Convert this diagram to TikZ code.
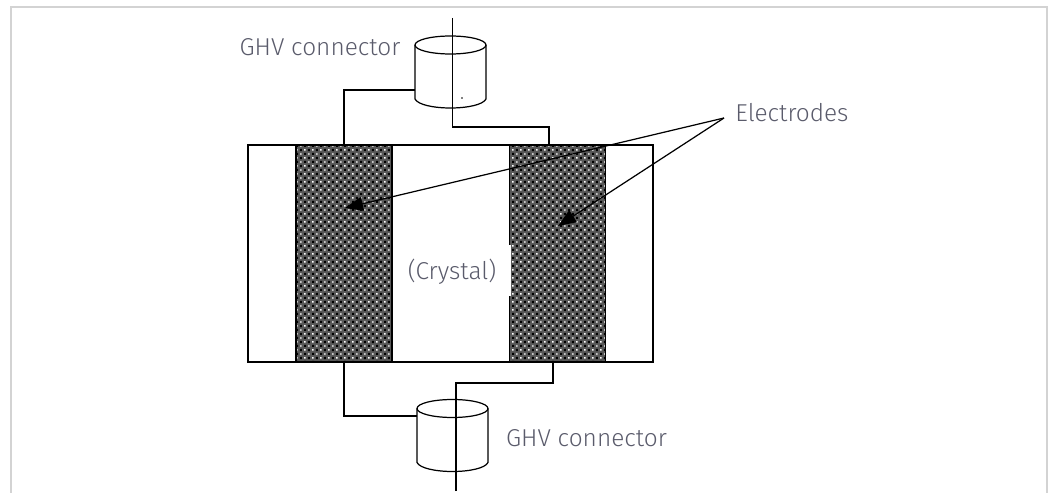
\documentclass[tikz,border=0pt]{standalone}
\usepackage{xcolor}
\usepackage{fontspec}
\setmainfont{Fira Sans Light}
\usetikzlibrary{arrows.meta,patterns}
\definecolor{framegray}{HTML}{D3D3D3}
\definecolor{textgray}{HTML}{5A5B6B}
\pgfdeclarepatterninherentlycolored{meshtile}{\pgfqpoint{0pt}{0pt}}{\pgfqpoint{4.55pt}{4.55pt}}{\pgfqpoint{4.55pt}{4.55pt}}{
  \pgfsetfillcolor{black!65}
  \pgfpathrectangle{\pgfqpoint{0pt}{0pt}}{\pgfqpoint{4.55pt}{4.55pt}}\pgfusepath{fill}
  \pgfsetfillcolor{black}
  \pgfpathrectangle{\pgfqpoint{0.57pt}{1.71pt}}{\pgfqpoint{1.14pt}{1.14pt}}\pgfusepath{fill}
  \pgfpathrectangle{\pgfqpoint{2.84pt}{3.98pt}}{\pgfqpoint{1.14pt}{0.57pt}}\pgfusepath{fill}
  \pgfpathrectangle{\pgfqpoint{2.84pt}{0pt}}{\pgfqpoint{1.14pt}{0.57pt}}\pgfusepath{fill}
  \pgfsetfillcolor{white}
  \pgfpathrectangle{\pgfqpoint{2.98pt}{1.85pt}}{\pgfqpoint{0.85pt}{0.85pt}}\pgfusepath{fill}
  \pgfpathrectangle{\pgfqpoint{0.71pt}{4.13pt}}{\pgfqpoint{0.85pt}{0.42pt}}\pgfusepath{fill}
  \pgfpathrectangle{\pgfqpoint{0.71pt}{0pt}}{\pgfqpoint{0.85pt}{0.43pt}}\pgfusepath{fill}
}
\tikzset{
  wire/.style={draw=black,line width=0.65pt},
  electrode/.style={draw=black,line width=0.8pt,pattern=meshtile,minimum width=1.92cm,minimum height=4.34cm,inner sep=0pt,outer sep=0pt},
  can/.style={draw=black,fill=white,line width=0.7pt},
  pointer/.style={draw=black,line width=0.7pt,-{Triangle[length=0.36cm,width=0.28cm]}},
  label/.style={text=textgray,font=\fontsize{13.9pt}{16pt}\selectfont,inner sep=0pt}
}
\begin{document}
\begin{tikzpicture}[x=0.02cm,y=-0.02cm]
  \useasboundingbox (0,0) rectangle (1052,493);
  \draw[framegray,line width=1.14pt] (11,493) -- (11,7) -- (1047,7) -- (1047,493);

  \node[draw=black,line width=0.7pt,minimum width=8.1cm,minimum height=4.34cm,inner sep=0pt,outer sep=0pt] (crystal) at (450.5,253.5) {};
  \node[electrode] (leftel) at (344,253.5) {};
  \node[electrode] (rightel) at (557.5,253.5) {};
  \node[fill=white,minimum width=0.04cm,minimum height=1.02cm,inner sep=0pt] (gap) at (510,270.5) {};

  \coordinate (topmid) at (450.5,72);
  \coordinate (botmid) at (452.5,435.5);
  \foreach \c in {topmid,botmid} {
    \filldraw[can] (\c) ++(-35.5,-27) -- ++(0,54) .. controls +(3,6) and +(-16,0) .. ++(35.5,9) .. controls +(16,0) and +(-3,6) .. ++(35.5,-9) -- ++(0,-54);
    \filldraw[can] (\c) ++(0,-27) ellipse [x radius=35.5,y radius=9];
  }
  \node[fill=black,circle,minimum size=1pt,inner sep=0pt] (speck) at (462,98) {};

  \coordinate (topaxis) at (452.7,18);
  \coordinate (topleft) at (415,90);
  \coordinate (topbend) at (452.7,127);
  \coordinate (topin) at (549,145);
  \coordinate (botaxis) at (456,491);
  \coordinate (botleft) at (417,416);
  \coordinate (botbend) at (456,383);
  \coordinate (botin) at (553,362);
  \draw[wire] (topleft) -| (leftel.north);
  \draw[wire] (topaxis) -- (topbend) -| (topin);
  \draw[wire] (botleft) -| (leftel.south);
  \draw[wire] (botaxis) -- (botbend) -| (botin);

  \node[label] (topname) at (320,47) {GHV connector};
  \node[label] (botname) at (586.5,438) {GHV connector};
  \node[label] (elname) at (792,113) {Electrodes};
  \node[label] (crname) at (452,272) {(Crystal)};

  \coordinate (apex) at (724,118);
  \coordinate (lefttip) at (345,208);
  \coordinate (righttip) at (558,226);
  \draw[pointer] (apex) -- (lefttip);
  \draw[pointer] (apex) -- (righttip);
\end{tikzpicture}
\end{document}
